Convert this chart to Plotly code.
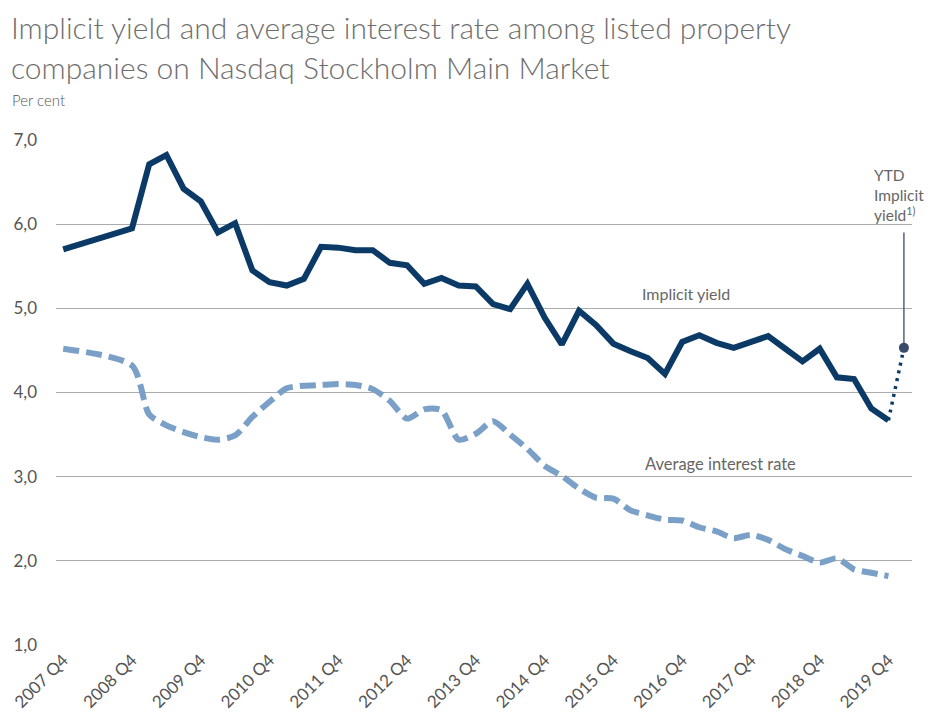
import plotly.graph_objects as go

# quarter index: 0 = 2007 Q4, 4 = 2008 Q4, ... 48 = 2019 Q4
quarters = [0] + list(range(4, 49))

implicit_yield = [5.70, 5.95, 6.71, 6.82, 6.42, 6.27, 5.90, 6.01, 5.45, 5.31,
                  5.27, 5.35, 5.73, 5.72, 5.69, 5.69, 5.54, 5.51, 5.29, 5.36,
                  5.27, 5.26, 5.05, 4.99, 5.29, 4.89, 4.57, 4.97, 4.80, 4.58,
                  4.49, 4.41, 4.22, 4.60, 4.68, 4.59, 4.53, 4.60, 4.67, 4.52,
                  4.37, 4.52, 4.18, 4.16, 3.81, 3.67]

avg_interest = [4.52, 4.32, 3.74, 3.61, 3.53, 3.47, 3.44, 3.49, 3.71, 3.89,
                4.05, 4.08, 4.09, 4.10, 4.09, 4.04, 3.90, 3.69, 3.80, 3.79,
                3.44, 3.51, 3.66, 3.50, 3.33, 3.13, 3.01, 2.86, 2.75, 2.74,
                2.60, 2.54, 2.49, 2.48, 2.40, 2.35, 2.27, 2.31, 2.25, 2.14,
                2.06, 1.98, 2.03, 1.90, 1.86, 1.82]

ytd_x = [48, 48.9]
ytd_y = [3.67, 4.53]

tick_vals = list(range(0, 49, 4))
tick_text = [f"{y} Q4" for y in range(2007, 2020)]

NAVY = "#0b3a66"
LIGHT = "#7aa0c8"
GREY = "#666666"
FONT = "Lato"

fig = go.Figure()
fig.add_trace(go.Scatter(x=quarters, y=avg_interest, mode="lines",
                         line=dict(color=LIGHT, width=6, dash="16px,7px",
                                   shape="spline", smoothing=0.7),
                         hoverinfo="skip"))
fig.add_trace(go.Scatter(x=quarters, y=implicit_yield, mode="lines",
                         line=dict(color=NAVY, width=6), hoverinfo="skip"))
fig.add_trace(go.Scatter(x=ytd_x, y=ytd_y, mode="lines",
                         line=dict(color=NAVY, width=3.5, dash="3px,5px"),
                         hoverinfo="skip"))
fig.add_trace(go.Scatter(x=[ytd_x[-1]], y=[ytd_y[-1]], mode="markers",
                         marker=dict(color="#3b4a6b", size=10),
                         hoverinfo="skip"))

# vertical leader line from the YTD point up to its label
fig.add_shape(type="line", x0=ytd_x[-1], x1=ytd_x[-1], y0=ytd_y[-1], y1=5.90,
              xref="x", yref="y", line=dict(color="#3b4a6b", width=1.3))

fig.add_annotation(x=47.02, y=6.35, xref="x", yref="y", xanchor="left",
                   yanchor="middle", align="left", showarrow=False,
                   text="YTD<br>Implicit<br>yield<sup>1)</sup>",
                   font=dict(family=FONT, size=15.5, color=GREY))
fig.add_annotation(x=(686 - 63.3) / 17.19, y=5.0 + (309 - 294) / 84.2,
                   xref="x", yref="y", showarrow=False, text="Implicit yield",
                   font=dict(family=FONT, size=16, color=GREY))
fig.add_annotation(x=(720 - 63.3) / 17.19, y=3.0 + (477 - 464) / 84.2,
                   xref="x", yref="y", showarrow=False, text="Average interest rate",
                   font=dict(family=FONT, size=16.5, color=GREY))

# titles (paper coords derived from plot area, page px 56..912 x 139.2..645.8)
def px(xp):
    return (xp - 56) / 856

def py(yp):
    return (645.8 - yp) / 506.6

fig.add_annotation(x=px(9), y=py(27), xref="paper", yref="paper",
                   xanchor="left", yanchor="middle", showarrow=False,
                   text="Implicit yield and average interest rate among listed property",
                   font=dict(family=FONT, size=30, color="#6e6e6e", weight=300))
fig.add_annotation(x=px(9), y=py(67), xref="paper", yref="paper",
                   xanchor="left", yanchor="middle", showarrow=False,
                   text="companies on Nasdaq Stockholm Main Market",
                   font=dict(family=FONT, size=30, color="#6e6e6e", weight=300))
fig.add_annotation(x=px(10), y=py(100), xref="paper", yref="paper",
                   xanchor="left", yanchor="middle", showarrow=False,
                   text="Per cent",
                   font=dict(family=FONT, size=15, color="#555555", weight=300))

# page has an 8px body margin, so the figure is 8px smaller than the window
fig.update_layout(
    width=924, height=712,
    margin=dict(l=48, r=20, t=131, b=74),
    plot_bgcolor="white", paper_bgcolor="white",
    showlegend=False,
    separators=", ",
    font=dict(family=FONT, color="#555555"),
    xaxis=dict(range=[-0.42, 49.37], tickvals=tick_vals, ticktext=tick_text,
               tickangle=-45, showgrid=False, zeroline=False, showline=False,
               automargin=False,
               tickfont=dict(family=FONT, size=17, color="#555555")),
    yaxis=dict(range=[0.99, 7.01], tickvals=[1, 2, 3, 4, 5, 6, 7],
               tickformat=".1f", showgrid=True, gridcolor="#ababab",
               gridwidth=1, zeroline=False, showline=False,
               automargin=False, ticklabelstandoff=18,
               tickfont=dict(family=FONT, size=17, color="#555555")),
)

fig.write_html("out.html")
